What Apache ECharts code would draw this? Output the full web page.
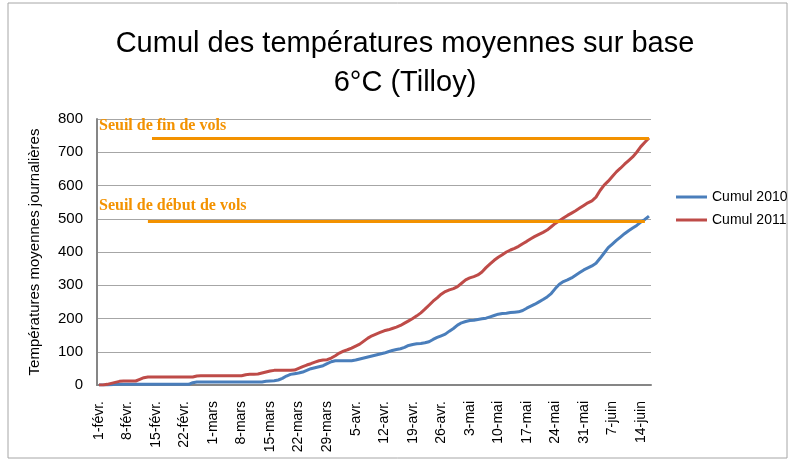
<!DOCTYPE html>
<html><head><meta charset="utf-8">
<script src="https://cdn.jsdelivr.net/npm/echarts@6/dist/echarts.min.js"></script>
<style>html,body{margin:0;padding:0;background:#fff}#c{width:793px;height:463px}</style>
</head><body><div id="c"></div>
<script>
// Category labels: daily dates from 1 Feb to 16 Jun
const monthNames = ['févr.', 'mars', 'avr.', 'mai', 'juin'];
const monthDays = [28, 31, 30, 31, 16];
const categories = [];
monthNames.forEach(function (m, i) { for (let d = 1; d <= monthDays[i]; d++) categories.push(d + '-' + m); });

const cumul2010 = [
 0,0,0,1,2,2,2,2,2,2, 2,2,2,2,2,2,2,2,2,2, 2,2,2,7,9,9,9,9,9,9,
 9,9,9,9,9,9,9,9,9,9, 9,11,12,13,15,20,27,32,34,36, 39,44,49,52,55,58,64,70,73,73,
 73,73,73,75,78,81,84,87,90,93, 96,100,104,107,109,113,119,122,124,125, 127,130,137,143,148,153,162,170,180,187,
 191,194,195,197,199,201,205,209,213,215, 216,218,219,220,224,231,237,243,250,257, 265,275,290,303,311,316,322,330,338,346,
 352,358,366,381,397,413,424,435,445,455, 464,472,480,490,498,508
];
const cumul2011 = [
 0,0,2,5,8,11,12,12,12,12, 17,22,24,24,24,24,24,24,24,24, 24,24,24,24,27,28,28,28,28,28,
 28,28,28,28,28,28,31,32,32,33, 36,39,42,44,44,44,44,44,45,50, 55,60,64,69,73,75,76,81,88,96,
 102,106,111,117,123,132,141,148,153,158, 163,166,170,174,179,186,193,200,208,217, 228,240,252,262,273,281,286,290,296,306,
 316,322,326,331,340,353,364,375,384,392, 400,406,411,417,425,432,440,447,453,459, 466,476,486,494,502,510,517,524,532,540,
 548,554,565,585,601,613,627,641,652,664, 675,686,700,717,730,743
];
const seuilFin = 743;
const seuilDebut = 493;
const yTicks = [0, 100, 200, 300, 400, 500, 600, 700, 800];

const chart = echarts.init(document.getElementById('c'), null, {renderer: 'canvas'});
const baseFont = 'Liberation Sans, Arial, sans-serif';
chart.setOption({
  animation: false,
  backgroundColor: '#fff',
  grid: {left: 97, right: 142, top: 119, bottom: 78, containLabel: false},
  graphic: [
    {type: 'rect', shape: {x: 8, y: 3, width: 779, height: 455}, style: {fill: 'none', stroke: '#a6a6a6', lineWidth: 1}, silent: true},
    {type: 'text', x: 405, y: 63, style: {text: 'Cumul des températures moyennes sur base\n6°C (Tilloy)', font: '29px ' + baseFont, fill: '#000', textAlign: 'center', textVerticalAlign: 'middle', lineHeight: 39}},
    {type: 'text', x: 99, y: 126, z: 10, style: {text: 'Seuil de fin de vols', font: 'bold 16px "Liberation Serif", "Times New Roman", serif', fill: '#F39200', textAlign: 'left', textVerticalAlign: 'middle'}},
    {type: 'text', x: 99, y: 206, z: 10, style: {text: 'Seuil de début de vols', font: 'bold 16px "Liberation Serif", "Times New Roman", serif', fill: '#F39200', textAlign: 'left', textVerticalAlign: 'middle'}}
  ],
  legend: {
    data: [{name: 'Cumul 2010', icon: 'rect'}, {name: 'Cumul 2011', icon: 'rect'}],
    orient: 'vertical', left: 676, top: 189, padding: 0, itemWidth: 31, itemHeight: 3, itemGap: 7,
    textStyle: {fontFamily: baseFont, fontSize: 14, color: '#000', lineHeight: 16}
  },
  xAxis: {
    type: 'category', data: categories, boundaryGap: true,
    axisLine: {lineStyle: {color: '#868686', width: 2}},
    axisTick: {show: false},
    axisLabel: {interval: 6, rotate: 90, margin: 16, fontFamily: baseFont, fontSize: 14, color: '#000'},
    splitLine: {show: false}
  },
  yAxis: {
    type: 'value', min: yTicks[0], max: yTicks[yTicks.length - 1], interval: 100,
    name: 'Températures moyennes journalières', nameLocation: 'middle', nameGap: 55, nameRotate: 90,
    nameTextStyle: {fontFamily: baseFont, fontSize: 15, color: '#000'},
    axisLine: {show: true, lineStyle: {color: '#868686', width: 2}},
    axisTick: {show: false},
    axisLabel: {margin: 14, fontFamily: baseFont, fontSize: 15, color: '#000'},
    splitLine: {lineStyle: {color: '#a6a6a6', width: 1}}
  },
  series: [
    {name: 'Cumul 2010', type: 'line', data: cumul2010, symbol: 'none', lineStyle: {color: '#4A7EBB', width: 3}, itemStyle: {color: '#4A7EBB'}},
    {name: 'Cumul 2011', type: 'line', data: cumul2011, symbol: 'none', lineStyle: {color: '#BE4B48', width: 3}, itemStyle: {color: '#BE4B48'}},
    {name: 'seuils', type: 'line', data: [], symbol: 'none', z: 5,
     markLine: {silent: true, symbol: 'none', label: {show: false}, lineStyle: {color: '#F39200', width: 3, type: 'solid'},
       data: [
         [{coord: [13, seuilFin]}, {coord: [135, seuilFin]}],
         [{coord: [12, seuilDebut]}, {coord: [134, seuilDebut]}]
       ]}}
  ]
});
</script></body></html>
